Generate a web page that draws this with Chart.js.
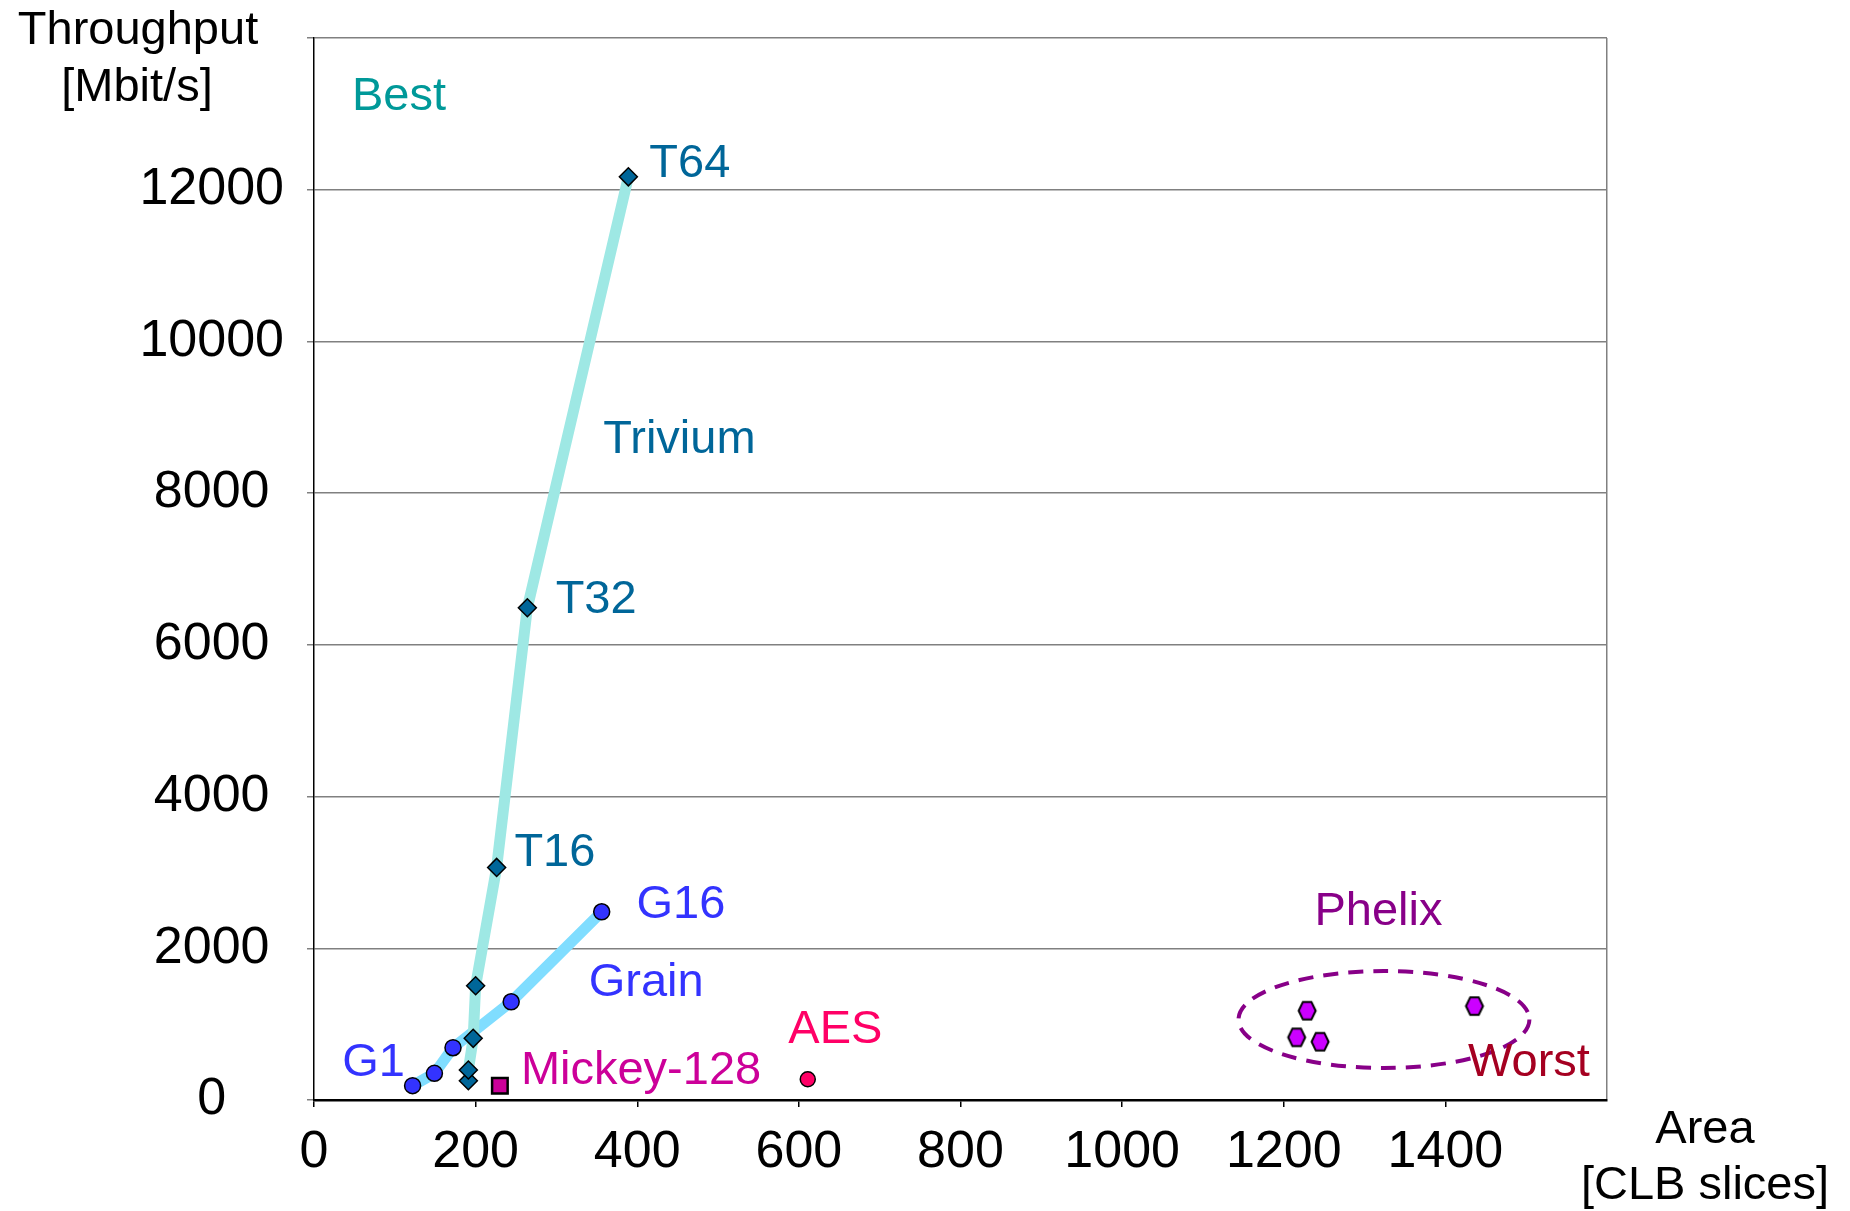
<!DOCTYPE html>
<html>
<head>
<meta charset="utf-8">
<title>Throughput vs Area</title>
<script src="https://cdn.jsdelivr.net/npm/chart.js@4/dist/chart.umd.min.js"></script>
<style>
    html, body { margin: 0; padding: 0; background: #fff; }
    canvas { display: block; }
</style>
</head>
<body>
<canvas id="chart" width="1850" height="1211"></canvas>
<script>
// data: area in CLB slices, throughput in Mbit/s
const triviumArea = [191, 191, 197, 200, 226, 264, 389];
const triviumThroughput = [254, 395, 813, 1506, 3066, 6490, 12170];

const grainArea = [122, 149, 172, 244, 356];
const grainThroughput = [189, 351, 689, 1295, 2481];

const mickeyArea = [230];
const mickeyThroughput = [189];

const aesArea = [611];
const aesThroughput = [273];

const phelixArea = [1229, 1436, 1216, 1245];
const phelixThroughput = [1177, 1238, 826, 768];

const xTicks = [0, 200, 400, 600, 800, 1000, 1200, 1400, 1600];
const yTicks = [0, 2000, 4000, 6000, 8000, 10000, 12000, 14000];

// text labels placed in data units
const labelText = ['Best', 'T64', 'Trivium', 'T32', 'T16', 'G16', 'Grain', 'G1', 'Mickey-128', 'AES', 'Phelix', 'Worst'];
const labelArea = [47, 415, 358, 299, 248, 399, 340, 35, 256, 587, 1238, 1428];
const labelThroughput = [13228, 12340, 8696, 6588, 3250, 2573, 1548, 487, 382, 922, 2477, 483];
const labelColor = ['#009999', '#006699', '#006699', '#006699', '#006699', '#3333FF', '#3333FF', '#3333FF', '#CC0099', '#FF0066', '#880088', '#A50021'];

// dashed ellipse round the Phelix points (centre and radii in data units)
const phelixRing = { x: 1324, y: 1061, rx: 180, ry: 639 };

function pairs(xs, ys) {
    return xs.map((x, i) => ({ x: x, y: ys[i] }));
}

function hexagon(fill) {
    const c = document.createElement('canvas');
    c.width = 22; c.height = 24;
    const g = c.getContext('2d');
    g.beginPath();
    for (let i = 0; i < 6; i++) {
        const a = Math.PI / 3 * i;
        const px = 11 + 8.5 * Math.cos(a);
        const py = 12 + 10.2 * Math.sin(a);
        if (i === 0) g.moveTo(px, py); else g.lineTo(px, py);
    }
    g.closePath();
    g.fillStyle = fill;
    g.fill();
    g.lineWidth = 2;
    g.strokeStyle = '#000';
    g.stroke();
    return c;
}

function noPadding(s) {
    s.paddingTop = 0;
    s.paddingBottom = 0;
    s.paddingLeft = 0;
    s.paddingRight = 0;
}

const FONT = 'Liberation Sans, Arial, sans-serif';

const annotations = {
    id: 'annotations',
    beforeDatasetsDraw(chart) {
        const { ctx, scales: { x, y } } = chart;
        const cx = x.getPixelForValue(phelixRing.x);
        const cy = y.getPixelForValue(phelixRing.y);
        const rx = x.getPixelForValue(phelixRing.x + phelixRing.rx) - cx;
        const ry = cy - y.getPixelForValue(phelixRing.y + phelixRing.ry);
        ctx.save();
        ctx.strokeStyle = '#880088';
        ctx.lineWidth = 4;
        ctx.setLineDash([15, 10]);
        ctx.beginPath();
        ctx.ellipse(cx, cy, rx, ry, 0, 0, Math.PI * 2);
        ctx.stroke();
        ctx.restore();
    },
    afterDatasetsDraw(chart) {
        const { ctx, chartArea, scales: { x, y } } = chart;
        ctx.save();
        ctx.font = '47px ' + FONT;
        ctx.textBaseline = 'middle';
        ctx.textAlign = 'left';
        labelText.forEach((t, i) => {
            ctx.fillStyle = labelColor[i];
            ctx.fillText(t, x.getPixelForValue(labelArea[i]), y.getPixelForValue(labelThroughput[i]));
        });

        // axis titles
        ctx.fillStyle = '#000';
        ctx.textAlign = 'center';
        ctx.fillText('Throughput', chartArea.left - 176, chartArea.top - 7);
        ctx.fillText('[Mbit/s]', chartArea.left - 177, chartArea.top + 50);
        ctx.fillText('Area', chartArea.right + 98, chartArea.bottom + 30);
        ctx.fillText('[CLB slices]', chartArea.right + 98, chartArea.bottom + 86);
        ctx.restore();
    }
};

const ctx = document.getElementById('chart').getContext('2d');
const chart = new Chart(ctx, {
    type: 'scatter',
    data: {
        datasets: [
            {
                label: 'Trivium',
                data: pairs(triviumArea, triviumThroughput),
                pointStyle: 'rectRot',
                pointRadius: 9,
                backgroundColor: '#006699',
                borderColor: '#000',
                pointBorderWidth: 1.5,
                showLine: false,
                order: 1
            },
            {
                label: 'Grain',
                data: pairs(grainArea, grainThroughput),
                pointStyle: 'circle',
                pointRadius: 8,
                backgroundColor: '#3333FF',
                borderColor: '#000',
                pointBorderWidth: 1.5,
                showLine: false,
                order: 1
            },
            {
                label: 'Mickey-128',
                data: pairs(mickeyArea, mickeyThroughput),
                pointStyle: 'rect',
                pointRadius: 11,
                backgroundColor: '#CC0099',
                borderColor: '#000',
                pointBorderWidth: 2.5,
                showLine: false,
                order: 1
            },
            {
                label: 'AES',
                data: pairs(aesArea, aesThroughput),
                pointStyle: 'circle',
                pointRadius: 7.5,
                backgroundColor: '#FF0066',
                borderColor: '#000',
                pointBorderWidth: 1.5,
                showLine: false,
                order: 1
            },
            {
                label: 'Phelix',
                data: pairs(phelixArea, phelixThroughput),
                pointStyle: hexagon('#CC00FF'),
                pointRadius: 9,
                showLine: false,
                order: 1
            },
            // the broad lines under the markers
            {
                label: 'Trivium line',
                data: pairs(triviumArea, triviumThroughput),
                showLine: true,
                pointRadius: 0,
                borderColor: '#9EE8E4',
                borderWidth: 11,
                borderJoinStyle: 'round',
                borderCapStyle: 'round',
                order: 2
            },
            {
                label: 'Grain line',
                data: pairs(grainArea, grainThroughput),
                showLine: true,
                pointRadius: 0,
                borderColor: '#80DDFF',
                borderWidth: 11,
                borderJoinStyle: 'round',
                borderCapStyle: 'round',
                order: 2
            }
        ]
    },
    options: {
        responsive: false,
        animation: false,
        events: [],
        layout: { padding: { top: 38, right: 243, left: 0, bottom: 0 } },
        plugins: {
            legend: { display: false },
            tooltip: { enabled: false }
        },
        scales: {
            x: {
                type: 'linear',
                min: xTicks[0],
                max: xTicks[xTicks.length - 1],
                afterBuildTicks: s => { s.ticks = xTicks.map(v => ({ value: v })); },
                afterFit: s => { s.height = 111; noPadding(s); },
                ticks: {
                    color: '#000',
                    font: { family: FONT, size: 52 },
                    padding: 14,
                    maxRotation: 0,
                    autoSkip: false,
                    callback: v => (v === 1600 ? '' : String(v))
                },
                grid: {
                    drawOnChartArea: true,
                    color: c => (c.tick && c.tick.value === 1600 ? '#808080' : 'rgba(0,0,0,0)'),
                    lineWidth: 1.5,
                    tickLength: 7,
                    tickColor: c => (c.tick && c.tick.value === 1600 ? 'rgba(0,0,0,0)' : '#000'),
                    tickWidth: 1.5
                },
                border: { display: true, color: '#000', width: 2.5 }
            },
            y: {
                type: 'linear',
                min: yTicks[0],
                max: yTicks[yTicks.length - 1],
                afterBuildTicks: s => { s.ticks = yTicks.map(v => ({ value: v })); },
                afterFit: s => { s.width = 314; noPadding(s); },
                ticks: {
                    color: '#000',
                    font: { family: FONT, size: 52 },
                    padding: 23,
                    crossAlign: 'center',
                    autoSkip: false,
                    callback: v => (v === 14000 ? '' : String(v))
                },
                grid: {
                    color: '#808080',
                    lineWidth: 1.5,
                    tickLength: 7,
                    tickColor: '#808080'
                },
                border: { display: true, color: '#000', width: 1.5 }
            }
        }
    },
    plugins: [annotations]
});
</script>
</body>
</html>
